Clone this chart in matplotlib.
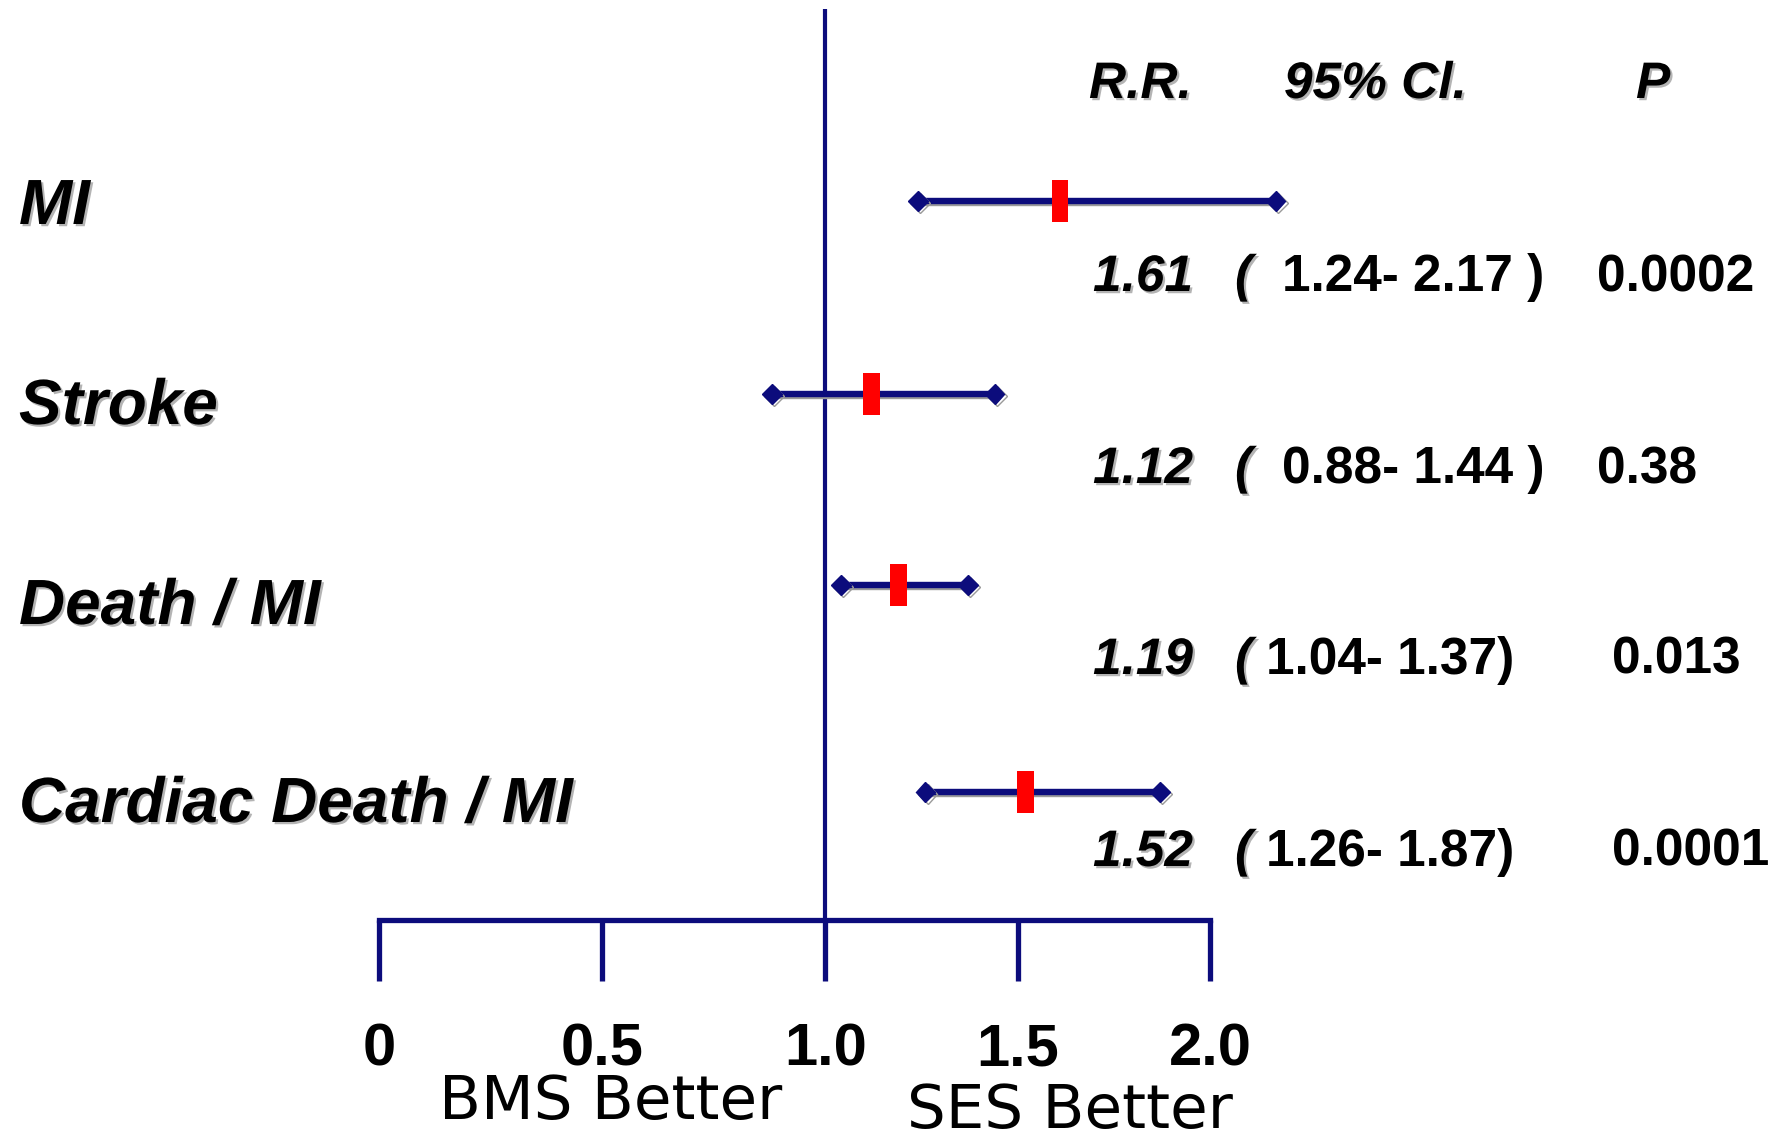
import numpy as np
import matplotlib.pyplot as plt
import matplotlib.patheffects as pe

# data
outcomes = ["MI", "Stroke", "Death / MI", "Cardiac Death / MI"]
rr = [1.61, 1.12, 1.19, 1.52]
ci_low = [1.24, 0.88, 1.04, 1.26]
ci_high = [2.17, 1.44, 1.37, 1.87]
rr_text = ["1.61", "1.12", "1.19", "1.52"]
ci_text = ["1.24- 2.17 )", "0.88- 1.44 )", "1.04- 1.37)", "1.26- 1.87)"]
p_text = ["0.0002", "0.38", "0.013", "0.0001"]
tick_vals = [0, 0.5, 1.0, 1.5, 2.0]
tick_labels = ["0", "0.5", "1.0", "1.5", "2.0"]

NAVY = "#0c0c7c"
W, H = 1785, 1140

# the right half of the axis is drawn a bit narrower than the left half
K = 0.862
def fwd(x):
    x = np.asarray(x, dtype=float)
    return np.where(x <= 1, x, 1 + (x - 1) * K)

def inv(u):
    u = np.asarray(u, dtype=float)
    return np.where(u <= 1, u, 1 + (u - 1) / K)

fig = plt.figure(figsize=(W / 100, H / 100), dpi=100)
ax = fig.add_axes([0, 0, 1, 1])
ax.set_xscale("function", functions=(fwd, inv))
ax.set_xlim(-0.849, 3.494)
ax.set_ylim(H, 0)
ax.axis("off")

line_fx = [pe.SimpleLineShadow(offset=(1.6, -1.6), shadow_color="#9a9a9a", alpha=1), pe.Normal()]
text_fx = [pe.SimplePatchShadow(offset=(1.6, -1.6), shadow_rgbFace="#b4b4b4", alpha=1), pe.Normal()]

# reference line at 1.0 and bottom axis
ax.plot([1, 1], [9, 920], color=NAVY, lw=3.0, solid_capstyle="butt")
ax.plot([tick_vals[0], tick_vals[-1]], [920, 920], color=NAVY, lw=3.8, solid_capstyle="projecting")
for t, lab in zip(tick_vals, tick_labels):
    ax.plot([t, t], [920, 981], color=NAVY, lw=3.8, solid_capstyle="butt")
    ax.text(t, 1066, lab, ha="center", va="baseline", fontsize=43,
            fontweight="bold", family="Liberation Sans")

# rows
line_y = [201, 394, 585, 792]
label_base = [224, 424, 624, 822]
value_base = [291, 483, 674, 866]
ci_x = [1282, 1282, 1266, 1266]
p_x = [1597, 1597, 1612, 1612]

box = [(-0.4, -1), (0.4, -1), (0.4, 1), (-0.4, 1), (-0.4, -1)]

for i in range(len(outcomes)):
    y = line_y[i]
    ax.plot([ci_low[i], ci_high[i]], [y, y], color=NAVY, lw=4.6,
            marker="D", markersize=10, markevery=[0, 1], path_effects=line_fx)
    ax.plot([rr[i]], [y], linestyle="none", marker=box, markersize=30,
            color="#ff0000", markeredgewidth=0, path_effects=line_fx)

    fig.text(19 / W, 1 - label_base[i] / H, outcomes[i], fontsize=46,
             fontweight="bold", style="italic", family="Liberation Sans",
             va="baseline", path_effects=text_fx)
    yb = 1 - value_base[i] / H
    fig.text(1093 / W, yb, rr_text[i], fontsize=37, fontweight="bold",
             style="italic", family="Liberation Sans", va="baseline", path_effects=text_fx)
    fig.text(1235 / W, yb, "(", fontsize=37, fontweight="bold",
             style="italic", family="Liberation Sans", va="baseline", path_effects=text_fx)
    fig.text(ci_x[i] / W, yb, ci_text[i], fontsize=37, fontweight="bold",
             family="Liberation Sans", va="baseline")
    fig.text(p_x[i] / W, yb, p_text[i], fontsize=37, fontweight="bold",
             family="Liberation Sans", va="baseline")

# column headers
for txt, xp in [("R.R.", 1089), ("95% Cl.", 1284), ("P", 1636)]:
    fig.text(xp / W, 1 - 98 / H, txt, fontsize=37, fontweight="bold",
             style="italic", family="Liberation Sans", va="baseline", path_effects=text_fx)

fig.text(611 / W, 1 - 1119 / H, "BMS Better", fontsize=44, ha="center",
         va="baseline", family="DejaVu Sans")
fig.text(1070 / W, 1 - 1128 / H, "SES Better", fontsize=44, ha="center",
         va="baseline", family="DejaVu Sans")

fig.savefig("out.png", dpi=100)
